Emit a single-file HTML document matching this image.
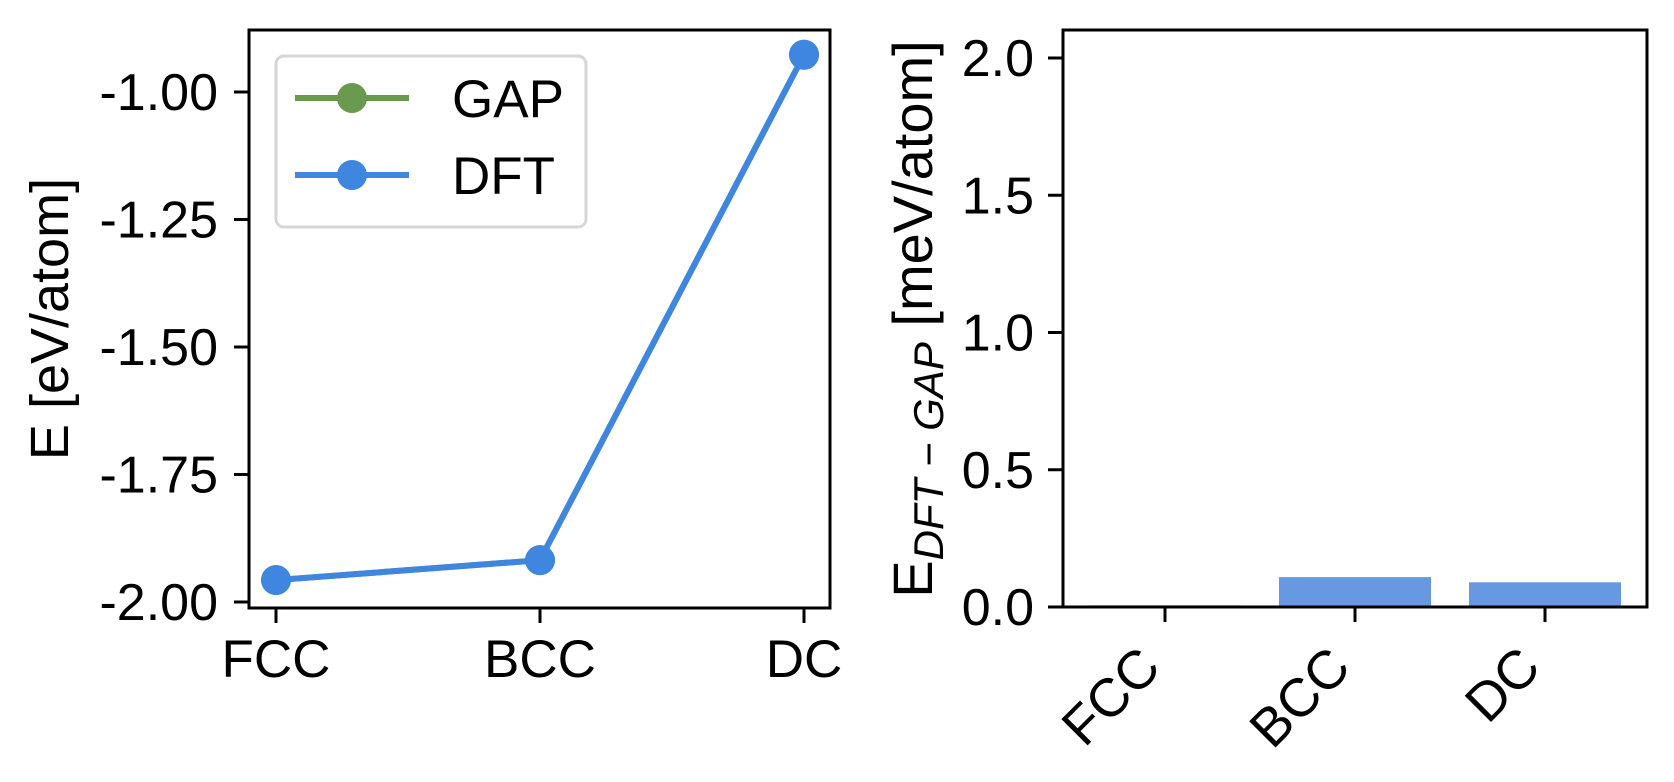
<!DOCTYPE html>
<html><head><meta charset="utf-8"><style>
html,body{margin:0;padding:0;background:#fff;}
svg{display:block;font-family:"Liberation Sans",Arial,sans-serif;}
</style></head><body>
<svg id="chart" width="1674" height="782" viewBox="0 0 1674 782" xmlns="http://www.w3.org/2000/svg">
<g id="left"></g>
<g id="right"></g>
</svg>
<script>
const categories = ["FCC", "BCC", "DC"];
const gapValues = [-1.957, -1.918, -0.927];
const dftValues = [-1.957, -1.918, -0.927];
const leftTicks = [-2.00, -1.75, -1.50, -1.25, -1.00];
const leftTickLabels = ["-2.00", "-1.75", "-1.50", "-1.25", "-1.00"];
const diffValues = [0.006, 0.109, 0.090];
const rightTicks = [0.0, 0.5, 1.0, 1.5, 2.0];
const rightTickLabels = ["0.0", "0.5", "1.0", "1.5", "2.0"];

const NS = "http://www.w3.org/2000/svg";
function mk(parent, tag, attrs, text) {
  const e = document.createElementNS(NS, tag);
  for (const k in attrs) e.setAttribute(k, attrs[k]);
  if (text !== undefined) e.textContent = text;
  parent.appendChild(e);
  return e;
}
const BLUE = "#3f86e0", GREEN = "#6a9a4f", BAR = "#6699e2";

// ---------- Left panel ----------
const L = document.getElementById("left");
const lx0 = 249, lx1 = 830, ly0 = 30, ly1 = 608;
const lxScale = i => 276 + i * 264;
const lyScale = v => 602 - (v - (-2.0)) * 510;

const gapPts = gapValues.map((v, i) => lxScale(i) + "," + lyScale(v)).join(" ");
let el = mk(L, "polyline", {points: gapPts, fill: "none", stroke: GREEN, "stroke-width": 6});


gapValues.forEach((v, i) => {
  const c = mk(L, "circle", {cx: lxScale(i), cy: lyScale(v), r: 15, fill: GREEN});
  
  
});
const dftPts = dftValues.map((v, i) => lxScale(i) + "," + lyScale(v)).join(" ");
el = mk(L, "polyline", {points: dftPts, fill: "none", stroke: BLUE, "stroke-width": 6});


dftValues.forEach((v, i) => {
  const c = mk(L, "circle", {cx: lxScale(i), cy: lyScale(v), r: 15, fill: BLUE});
  
  
});
el = mk(L, "rect", {x: lx0, y: ly0, width: lx1 - lx0, height: ly1 - ly0, fill: "none", stroke: "#000", "stroke-width": 3});


leftTicks.forEach((t, i) => {
  const y = lyScale(t);
  const tk = mk(L, "line", {x1: lx0 - 15, x2: lx0, y1: y, y2: y, stroke: "#000", "stroke-width": 3});
  
  
  const tl = mk(L, "text", {x: 218, y: y + 18, "text-anchor": "end", "font-size": 52}, leftTickLabels[i]);
  
  
});
categories.forEach((c, i) => {
  const x = lxScale(i);
  const tk = mk(L, "line", {x1: x, x2: x, y1: ly1, y2: ly1 + 15, stroke: "#000", "stroke-width": 3});
  
  
  const tl = mk(L, "text", {x: x, y: 677, "text-anchor": "middle", "font-size": 53}, c);
  
  
});
el = mk(L, "text", {x: 0, y: 0, transform: "translate(68,319) rotate(-90)", "text-anchor": "middle", "font-size": 54}, "E [eV/atom]");



// legend
const lg = mk(L, "g", {});


mk(lg, "rect", {x: 276, y: 56, width: 310, height: 171, rx: 8, fill: "#fff", stroke: "#d6d6d6", "stroke-width": 3});
[["GAP", GREEN, 98], ["DFT", BLUE, 175]].forEach(([name, col, y]) => {
  const g = mk(lg, "g", {});
  
  
  mk(g, "line", {x1: 295, x2: 409, y1: y, y2: y, stroke: col, "stroke-width": 6});
  mk(g, "circle", {cx: 352, cy: y, r: 15, fill: col});
  mk(g, "text", {x: 452, y: y + 19, "font-size": 53}, name);
});

// ---------- Right panel ----------
const R = document.getElementById("right");
const rx0 = 1063, rx1 = 1647, ry0 = 30, ry1 = 607;
const rxScale = i => 1165 + i * 190;
const ryScale = v => ry1 - v * 274.5;
const barW = 152;
diffValues.forEach((v, i) => {
  const b = mk(R, "rect", {x: rxScale(i) - barW / 2, y: ryScale(v), width: barW, height: ry1 - ryScale(v), fill: BAR});
  
  
});
el = mk(R, "rect", {x: rx0, y: ry0, width: rx1 - rx0, height: ry1 - ry0, fill: "none", stroke: "#000", "stroke-width": 3});


rightTicks.forEach((t, i) => {
  const y = ryScale(t);
  const tk = mk(R, "line", {x1: rx0 - 15, x2: rx0, y1: y, y2: y, stroke: "#000", "stroke-width": 3});
  
  
  const tl = mk(R, "text", {x: 1034, y: y + 18, "text-anchor": "end", "font-size": 52}, rightTickLabels[i]);
  
  
});
categories.forEach((c, i) => {
  const x = rxScale(i);
  const tk = mk(R, "line", {x1: x, x2: x, y1: ry1, y2: ry1 + 15, stroke: "#000", "stroke-width": 3});
  
  
  const tl = mk(R, "text", {x: 0, y: 0, transform: "translate(" + (x - 2) + ",670) rotate(-45)", "text-anchor": "end", "font-size": 54}, c);
  
  
});
const yt = mk(R, "text", {x: 0, y: 0, transform: "translate(932,319) rotate(-90)", "text-anchor": "middle", "font-size": 56});


mk(yt, "tspan", {}, "E");
mk(yt, "tspan", {"font-size": 42, "font-style": "italic", dy: 11}, "DFT − GAP");
mk(yt, "tspan", {dy: -11}, " [meV/atom]");
</script>
</body></html>
